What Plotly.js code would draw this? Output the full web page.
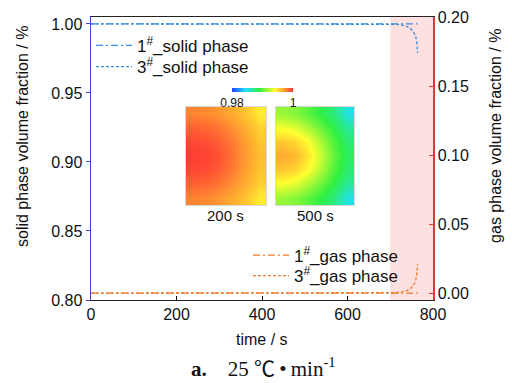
<!DOCTYPE html>
<html>
<head>
<meta charset="utf-8">
<script src="https://cdn.plot.ly/plotly-3.0.1.min.js"></script>
<style>html,body{margin:0;padding:0;background:#fff;}#chart{width:512px;height:383px;}</style>
</head>
<body>
<div id="chart"></div>
<script>
// ---- data ----
const time1 = [0, 100, 200, 300, 400, 500, 600, 700, 764];
const solid1 = [1, 1, 1, 1, 1, 1, 1, 1, 1];
const gas1 = [0, 0, 0, 0, 0, 0, 0, 0, 0];
const time3 = [0, 100, 200, 300, 400, 500, 600, 700, 715, 730, 740, 748, 754, 759, 762, 764];
const solid3 = [1, 1, 1, 1, 1, 1, 1, 1, 0.9997, 0.999, 0.998, 0.9965, 0.9945, 0.9915, 0.987, 0.979];
const gas3 = [0, 0, 0, 0, 0, 0, 0, 0, 0.0003, 0.001, 0.002, 0.0035, 0.0055, 0.0085, 0.013, 0.021];
const names = ['1<sup>#</sup>_solid phase', '3<sup>#</sup>_solid phase', '1<sup>#</sup>_gas phase', '3<sup>#</sup>_gas phase'];
const xTicks = [0, 200, 400, 600, 800];
const yTicksL = [0.80, 0.85, 0.90, 0.95, 1.00];
const yTicksR = [0.00, 0.05, 0.10, 0.15, 0.20];
const shadeRange = [700, 800];
// inset fields (solid phase volume fraction), rows top->bottom, cols left->right
const field200 = [
  [0.9978, 0.9976, 0.9972, 0.9966, 0.9958, 0.9946],
  [0.9988, 0.9986, 0.9981, 0.9974, 0.9965, 0.9954],
  [0.9995, 0.9993, 0.9988, 0.9980, 0.9969, 0.9958],
  [0.9998, 0.9996, 0.9991, 0.9982, 0.9971, 0.9960],
  [0.9995, 0.9993, 0.9988, 0.9980, 0.9969, 0.9958],
  [0.9988, 0.9986, 0.9981, 0.9974, 0.9965, 0.9954],
  [0.9978, 0.9976, 0.9972, 0.9966, 0.9958, 0.9946]
];
const field500 = [
  [0.9915, 0.9910, 0.9900, 0.9888, 0.9874, 0.9850],
  [0.9938, 0.9933, 0.9920, 0.9904, 0.9887, 0.9868],
  [0.9958, 0.9953, 0.9940, 0.9919, 0.9897, 0.9878],
  [0.9967, 0.9962, 0.9948, 0.9926, 0.9902, 0.9882],
  [0.9958, 0.9953, 0.9940, 0.9919, 0.9897, 0.9878],
  [0.9938, 0.9933, 0.9920, 0.9904, 0.9887, 0.9868],
  [0.9915, 0.9910, 0.9900, 0.9888, 0.9874, 0.9850]
];
const insetLabels = ['200 s', '500 s'];
const cbRange = [0.98, 1];

const blue = '#3a8de0';
const orange = '#f07a28';
const FONT = 'Liberation Sans, Arial, sans-serif';
const legNames = ['legend', 'legend2', 'legend3', 'legend4'];

const traces = [
  {x: time1, y: solid1, name: names[0], mode: 'lines', line: {color: blue, width: 1.3, dash: '7px,3px,2px,3px'}, legend: legNames[0], yaxis: 'y'},
  {x: time3, y: solid3, name: names[1], mode: 'lines', line: {color: blue, width: 1.3, dash: '3px,2px'}, legend: legNames[1], yaxis: 'y'},
  {x: time1, y: gas1, name: names[2], mode: 'lines', line: {color: orange, width: 1.3, dash: '7px,3px,2px,3px'}, legend: legNames[2], yaxis: 'y2'},
  {x: time3, y: gas3, name: names[3], mode: 'lines', line: {color: orange, width: 1.3, dash: '3px,2px'}, legend: legNames[3], yaxis: 'y2'},
  {type: 'heatmap', z: field200, xaxis: 'x3', yaxis: 'y3', coloraxis: 'coloraxis', zsmooth: 'best', showlegend: false, hoverinfo: 'skip'},
  {type: 'heatmap', z: field500, xaxis: 'x4', yaxis: 'y4', coloraxis: 'coloraxis', zsmooth: 'best', showlegend: false, hoverinfo: 'skip'}
];

const insetAxis = (dom, anchor, rev) => ({domain: dom, anchor: anchor, showticklabels: false, showgrid: false, zeroline: false,
  showline: true, mirror: true, linecolor: '#d8d8d8', linewidth: 1, ticks: '', autorange: rev ? 'reversed' : true});
const leg = (x, y) => ({x: x, y: y, xanchor: 'left', yanchor: 'top', bgcolor: 'rgba(0,0,0,0)', font: {size: 17}, itemwidth: 36});

const layout = {
  width: 512, height: 383,
  margin: {l: 91, r: 79, t: 17, b: 83},
  paper_bgcolor: '#fff', plot_bgcolor: '#fff',
  font: {family: FONT, size: 16, color: '#111'},
  xaxis: {range: [0, 800], tickvals: xTicks, ticks: 'inside', ticklen: 4, tickcolor: '#000',
    showline: true, mirror: true, linecolor: '#222', linewidth: 1, showgrid: false, zeroline: false,
    tickfont: {size: 16}},
  yaxis: {range: [0.8, 1.005], tickvals: yTicksL, tickformat: '.2f', ticks: 'outside', ticklen: 4,
    tickcolor: '#4646c8', showline: true, linecolor: '#4646c8', linewidth: 1.5, showgrid: false, zeroline: false,
    tickfont: {size: 16}},
  yaxis2: {overlaying: 'y', side: 'right', range: [-0.005, 0.2], tickvals: yTicksR, tickformat: '.2f',
    ticks: 'inside', ticklen: 4, tickcolor: '#e03838', showline: true, linecolor: '#e03838', linewidth: 1.5,
    showgrid: false, zeroline: false, tickfont: {size: 16}},
  xaxis3: insetAxis([0.2778, 0.5117], 'y3'),
  yaxis3: insetAxis([0.3357, 0.682], 'x3', true),
  xaxis4: insetAxis([0.5409, 0.7690], 'y4'),
  yaxis4: insetAxis([0.3357, 0.682], 'x4', true),
  coloraxis: {cmin: cbRange[0], cmax: cbRange[1],
    colorscale: [[0, '#2040ff'], [0.22, '#20e0ff'], [0.45, '#30f040'], [0.7, '#ffff30'], [0.85, '#ffa030'], [1, '#ff3535']],
    colorbar: {orientation: 'h', x: 0.5015, xanchor: 'center', y: 0.7173, yanchor: 'middle', len: 61, lenmode: 'pixels',
      thickness: 4, outlinewidth: 0, tickvals: cbRange, ticktext: ['0.98', '1'], ticks: '', tickfont: {size: 12, color: '#111'}, xpad: 0, ypad: 0}},
  showlegend: true,
  legend: leg(0.0, 0.9615),
  legend2: leg(0.0, 0.8868),
  legend3: leg(0.459, 0.2205),
  legend4: leg(0.459, 0.148),
  shapes: [{type: 'rect', xref: 'x', yref: 'paper', x0: shadeRange[0], x1: shadeRange[1], y0: 0, y1: 1,
    fillcolor: '#fde0e0', line: {width: 0}, layer: 'below'}],
  annotations: [
    {text: insetLabels[0], xref: 'paper', yref: 'paper', x: 0.3947, y: 0.297, xanchor: 'center', yanchor: 'middle', showarrow: false, font: {size: 15}},
    {text: insetLabels[1], xref: 'paper', yref: 'paper', x: 0.655, y: 0.297, xanchor: 'center', yanchor: 'middle', showarrow: false, font: {size: 15}},
    {text: 'time / s', xref: 'paper', yref: 'paper', x: 0.5, y: -0.1413, xanchor: 'center', yanchor: 'middle', showarrow: false, font: {size: 16}},
    {text: 'solid phase volume fraction / %', xref: 'paper', yref: 'paper', x: -0.2018, y: 0.5795, xanchor: 'center', yanchor: 'middle', textangle: -90, showarrow: false, font: {size: 16}},
    {text: 'gas phase volume fraction / %', xref: 'paper', yref: 'paper', x: 1.181, y: 0.5795, xanchor: 'center', yanchor: 'middle', textangle: -90, showarrow: false, font: {size: 16}},
    {text: '<b>a.</b>\u00a0\u00a0\u00a0\u00a025 ℃\u2009•\u2009min<sup>-1</sup>', xref: 'paper', yref: 'paper', x: 0.5058, y: -0.24, xanchor: 'center', yanchor: 'middle', showarrow: false,
      font: {size: 21, family: 'Liberation Serif, Noto Sans CJK SC, serif', color: '#111'}}
  ]
};

Plotly.newPlot('chart', traces, layout, {displayModeBar: false, staticPlot: true});
</script>
</body>
</html>
